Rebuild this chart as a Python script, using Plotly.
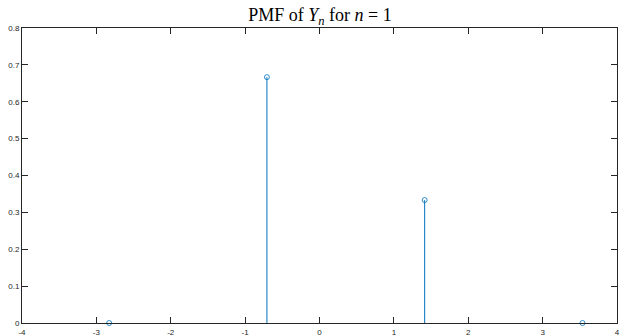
import plotly.graph_objects as go

# PMF of Y_n for n = 1
y_values = [-2.828, -0.707, 1.414, 3.536]
probabilities = [0.0, 0.6667, 0.3333, 0.0]

x_ticks = [-4, -3, -2, -1, 0, 1, 2, 3, 4]
y_ticks = [0, 0.1, 0.2, 0.3, 0.4, 0.5, 0.6, 0.7, 0.8]

stem_color = "#0072BD"

fig = go.Figure()
fig.add_trace(
    go.Scatter(
        x=y_values,
        y=probabilities,
        mode="markers",
        marker=dict(symbol="circle-open", size=5, color=stem_color, line=dict(width=0.8, color=stem_color)),
        error_y=dict(
            type="data",
            symmetric=False,
            array=[0] * len(probabilities),
            arrayminus=probabilities,
            width=0,
            thickness=1,
            color=stem_color,
        ),
        showlegend=False,
        cliponaxis=False,
    )
)

axis_common = dict(
    showgrid=False,
    zeroline=False,
    showline=True,
    linecolor="#262626",
    linewidth=1,
    mirror="ticks",
    ticks="inside",
    ticklen=6,
    tickcolor="#262626",
    tickwidth=1,
    automargin=False,
    tickfont=dict(family="Liberation Sans, Arial", size=8, color="#262626"),
)

fig.update_layout(
    width=620,
    height=335,
    margin=dict(l=22, r=3, t=28, b=12),
    paper_bgcolor="white",
    plot_bgcolor="white",
    title=dict(
        text="PMF of <i>Y</i><sub><i>n</i></sub> for <i>n</i> = 1",
        x=0.516,
        xanchor="center",
        y=0.956,
        yanchor="middle",
        font=dict(family="Liberation Serif, DejaVu Serif, serif", size=18, color="black"),
    ),
    xaxis=dict(range=[-4, 4], tickvals=x_ticks, ticktext=[str(t) for t in x_ticks],
               ticklabelstandoff=1, **axis_common),
    yaxis=dict(range=[0, 0.8], tickvals=y_ticks, ticktext=[f"{t:g}" for t in y_ticks], **axis_common),
)

# the page body has a default 8px margin; drop it so the figure sits at the window corner
fig.write_html(
    "out.html",
    config={"displayModeBar": False},
    post_script="document.body.style.margin='0';",
)
